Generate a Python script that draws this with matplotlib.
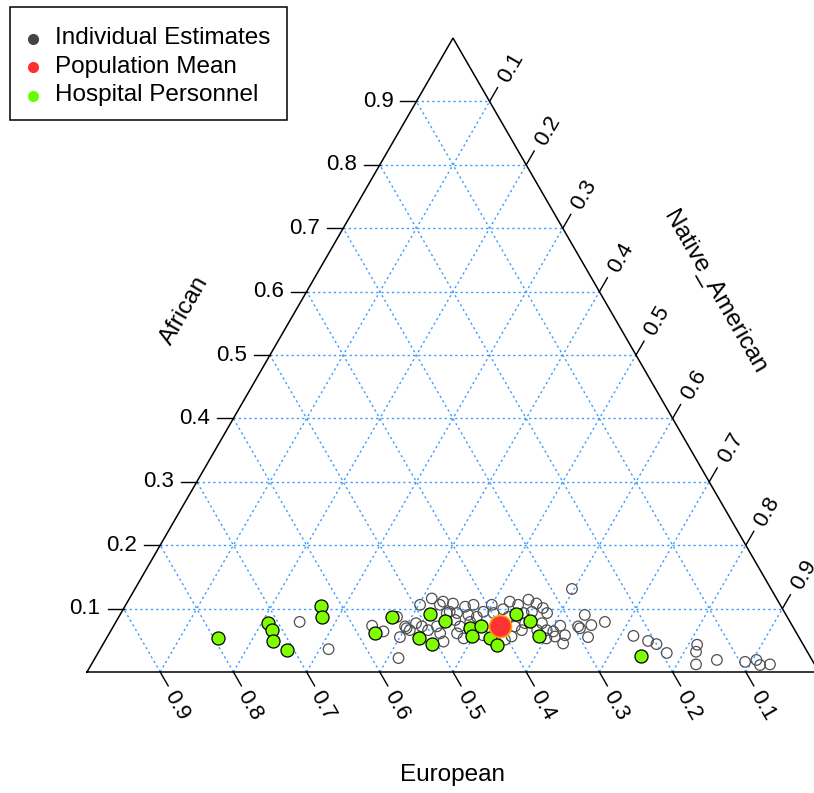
import numpy as np
import matplotlib
matplotlib.use("Agg")
import matplotlib.pyplot as plt
from matplotlib.patches import Rectangle
from matplotlib.lines import Line2D

plt.rcParams['font.family'] = ['Liberation Sans', 'DejaVu Sans']

# ---- compositions (African, European, Native_American) ----
indiv_african = [0.079, 0.036, 0.073, 0.064, 0.087, 0.055, 0.022, 0.069, 0.077, 0.106,
                 0.116, 0.106, 0.066, 0.072, 0.072, 0.066, 0.072, 0.061, 0.093, 0.111,
                 0.108, 0.095, 0.093, 0.103, 0.106, 0.090, 0.087, 0.095, 0.106, 0.093,
                 0.111, 0.106, 0.114, 0.108, 0.101, 0.093, 0.072, 0.066, 0.077, 0.077,
                 0.066, 0.072, 0.061, 0.048, 0.053, 0.056, 0.053, 0.058, 0.087, 0.131,
                 0.093, 0.090, 0.079, 0.074, 0.072, 0.069, 0.058, 0.045, 0.055, 0.057,
                 0.049, 0.044, 0.030, 0.064, 0.056, 0.043, 0.032, 0.012, 0.019, 0.016,
                 0.019, 0.011, 0.012, 0.082, 0.099, 0.095, 0.066, 0.073, 0.079, 0.051]
indiv_european = [0.670, 0.652, 0.574, 0.563, 0.533, 0.545, 0.564, 0.529, 0.512, 0.492,
                  0.471, 0.465, 0.501, 0.486, 0.530, 0.526, 0.507, 0.487, 0.462, 0.458,
                  0.446, 0.457, 0.448, 0.432, 0.419, 0.434, 0.424, 0.411, 0.394, 0.398,
                  0.367, 0.358, 0.340, 0.332, 0.327, 0.357, 0.380, 0.373, 0.363, 0.340,
                  0.339, 0.455, 0.464, 0.489, 0.459, 0.392, 0.346, 0.430, 0.381, 0.272,
                  0.325, 0.275, 0.253, 0.274, 0.293, 0.292, 0.318, 0.327, 0.288, 0.225,
                  0.209, 0.200, 0.193, 0.331, 0.333, 0.145, 0.152, 0.162, 0.130, 0.093,
                  0.076, 0.075, 0.061, 0.456, 0.382, 0.345, 0.352, 0.317, 0.437, 0.404]
indiv_native = [0.251, 0.312, 0.353, 0.373, 0.380, 0.400, 0.415, 0.402, 0.411, 0.402,
                0.413, 0.429, 0.433, 0.442, 0.399, 0.408, 0.422, 0.452, 0.445, 0.431,
                0.446, 0.448, 0.459, 0.465, 0.475, 0.476, 0.489, 0.494, 0.500, 0.509,
                0.522, 0.536, 0.546, 0.560, 0.573, 0.550, 0.549, 0.561, 0.560, 0.583,
                0.595, 0.474, 0.475, 0.463, 0.488, 0.552, 0.601, 0.512, 0.532, 0.597,
                0.582, 0.635, 0.668, 0.652, 0.635, 0.639, 0.624, 0.628, 0.657, 0.718,
                0.742, 0.756, 0.777, 0.605, 0.612, 0.812, 0.816, 0.826, 0.851, 0.891,
                0.905, 0.914, 0.927, 0.462, 0.519, 0.561, 0.582, 0.610, 0.484, 0.546]

staff_african = [0.053, 0.077, 0.067, 0.049, 0.035, 0.104, 0.086, 0.086, 0.062, 0.092,
                 0.081, 0.054, 0.044, 0.069, 0.056, 0.072, 0.053, 0.043, 0.092, 0.081,
                 0.056, 0.025]
staff_european = [0.794, 0.714, 0.714, 0.722, 0.709, 0.629, 0.636, 0.541, 0.576, 0.486,
                  0.470, 0.519, 0.507, 0.442, 0.446, 0.426, 0.423, 0.418, 0.368, 0.354,
                  0.355, 0.230]
staff_native = [0.153, 0.209, 0.219, 0.229, 0.256, 0.267, 0.278, 0.373, 0.362, 0.423,
                0.449, 0.427, 0.449, 0.489, 0.498, 0.502, 0.524, 0.539, 0.540, 0.565,
                0.589, 0.745]

mean_african = [0.072]
mean_european = [0.400]
mean_native = [0.528]

grid_levels = [0.1, 0.2, 0.3, 0.4, 0.5, 0.6, 0.7, 0.8, 0.9]
tick_labels = ["0.1", "0.2", "0.3", "0.4", "0.5", "0.6", "0.7", "0.8", "0.9"]

legend_labels = ["Individual Estimates", "Population Mean", "Hospital Personnel"]
legend_colors = ["#444444", "#ff3030", "#66ff00"]

H = np.sqrt(3) / 2


def to_xy(afr, eur, nat):
    afr = np.asarray(afr, float)
    eur = np.asarray(eur, float)
    nat = np.asarray(nat, float)
    s = afr + eur + nat
    afr, nat = afr / s, nat / s
    return nat + afr / 2, afr * H


fig = plt.figure(figsize=(8.14, 7.93), dpi=100)
ax = fig.add_axes([0, 0, 1, 1])
ax.set_xlim(-87 / 732, 727 / 732)
ax.set_ylim(-121 / 732, 672 / 732)
ax.set_aspect('auto')
ax.axis('off')

grid_kw = dict(color='#3d9bff', lw=1.0, dashes=(1.6, 2.2), zorder=1)
for v in grid_levels:
    # constant African (horizontal)
    x, y = to_xy([v, v], [1 - v, 0], [0, 1 - v])
    ax.plot(x, y, **grid_kw)
    # constant European (parallel to right side)
    x, y = to_xy([0, 1 - v], [v, v], [1 - v, 0])
    ax.plot(x, y, **grid_kw)
    # constant Native_American (parallel to left side)
    x, y = to_xy([0, 1 - v], [1 - v, 0], [v, v])
    ax.plot(x, y, **grid_kw)

# triangle outline
x, y = to_xy([0, 0, 1, 0], [1, 0, 0, 1], [0, 1, 0, 0])
ax.plot(x, y, color='black', lw=1.1, zorder=2, solid_joinstyle='miter')

tick_len = 16 / 732
lab_off = 39 / 732
tick_fs = 16
c60, s60 = 0.5, H

for v, lab in zip(grid_levels, tick_labels):
    # African ticks on the left side
    x0, y0 = to_xy(v, 1 - v, 0)
    ax.plot([x0, x0 - tick_len], [y0, y0], color='black', lw=1.0, zorder=2)
    ax.text(x0 - tick_len - 7 / 732, y0, lab, ha='right', va='center', fontsize=tick_fs)
    # European ticks on the bottom side
    x0, y0 = to_xy(0, v, 1 - v)
    ax.plot([x0, x0 + c60 * tick_len], [y0, y0 - s60 * tick_len], color='black', lw=1.0, zorder=2)
    ax.text(x0 + c60 * lab_off - 3 / 732, y0 - s60 * lab_off, lab, ha='center', va='center',
            rotation=-60, rotation_mode='anchor', fontsize=tick_fs)
    # Native_American ticks on the right side
    x0, y0 = to_xy(1 - v, 0, v)
    ax.plot([x0, x0 + c60 * tick_len], [y0, y0 + s60 * tick_len], color='black', lw=1.0, zorder=2)
    ax.text(x0 + c60 * lab_off + 2 / 732, y0 + s60 * lab_off, lab, ha='center', va='center',
            rotation=60, rotation_mode='anchor', fontsize=tick_fs)

title_fs = 17.5
ax.text((185 - 87) / 732, (672 - 310) / 732, "African", rotation=60, ha='center', va='center',
        rotation_mode='anchor', fontsize=title_fs)
ax.text((715 - 87) / 732, (672 - 292) / 732, "Native_American", rotation=-60, ha='center',
        va='center', rotation_mode='anchor', fontsize=title_fs)
ax.text(0.5 - 1 / 732, (672 - 775) / 732, "European", ha='center', va='center', fontsize=title_fs)

# points
x, y = to_xy(indiv_african, indiv_european, indiv_native)
ax.scatter(x, y, s=58, facecolors='none', edgecolors='#505050', linewidths=0.9, zorder=3)
x, y = to_xy(staff_african, staff_european, staff_native)
ax.scatter(x, y, s=88, facecolors='#7fff00', edgecolors='black', linewidths=0.9, zorder=4)
x, y = to_xy(mean_african, mean_european, mean_native)
ax.scatter(x, y, s=250, facecolors='#ff3333', edgecolors='#ffa500', linewidths=1.2, zorder=5)

# legend box in pixel coordinates
W, Hf = 814, 793
box = Rectangle((10 / W, 1 - 120 / Hf), 277 / W, 113 / Hf, transform=fig.transFigure,
                facecolor='white', edgecolor='black', lw=1.1, zorder=10)
fig.patches.append(box)
for i, (lab, col) in enumerate(zip(legend_labels, legend_colors)):
    yy = 1 - (38.5 + 28.5 * i) / Hf
    fig.add_artist(Line2D([33 / W], [yy], marker='o', ms=7, color=col, mec=col, lw=0,
                          transform=fig.transFigure, zorder=11))
    fig.text(55 / W, yy, lab, ha='left', va='center', fontsize=17.5, zorder=11)

fig.savefig("out.png", dpi=100)
